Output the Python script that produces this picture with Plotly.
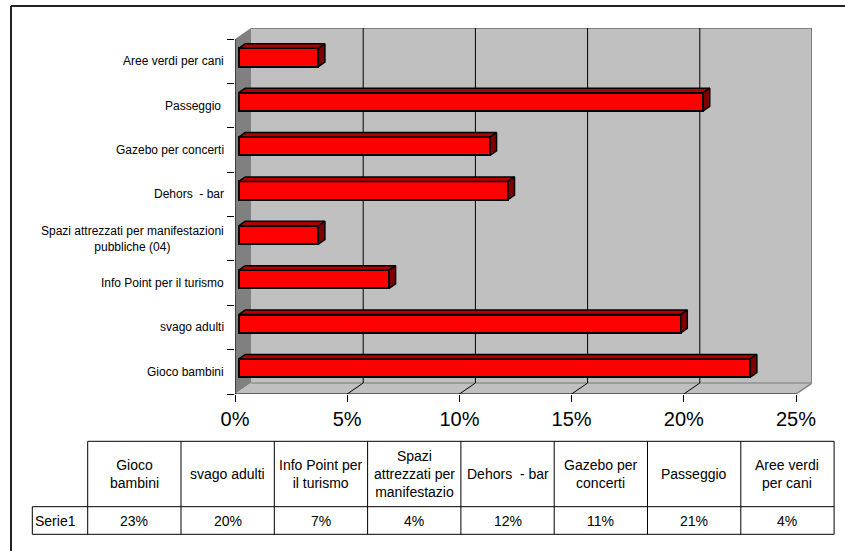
import plotly.graph_objects as go

# ---------------- data ----------------
categories = ["Gioco bambini", "svago adulti", "Info Point per il turismo",
              "Spazi attrezzati per manifestazioni pubbliche (04)", "Dehors  - bar",
              "Gazebo per concerti", "Passeggio ", "Aree verdi per cani"]
category_labels = ["Gioco bambini", "svago adulti", "Info Point per il turismo",
                   "Spazi attrezzati per manifestazioni<br>pubbliche (04)", "Dehors  - bar",
                   "Gazebo per concerti", "Passeggio ", "Aree verdi per cani"]
table_headers = ["Gioco<br>bambini", "svago adulti", "Info Point per<br>il turismo",
                 "Spazi<br>attrezzati per<br>manifestazio", "Dehors  - bar",
                 "Gazebo per<br>concerti", "Passeggio", "Aree verdi<br>per cani"]
series_name = "Serie1"
values = [22.8, 19.7, 6.7, 3.55, 12.0, 11.2, 20.7, 3.55]   # percent
x_ticks = [0, 5, 10, 15, 20, 25]
x_tick_labels = ["0%", "5%", "10%", "15%", "20%", "25%"]

# ---------------- layout geometry ----------------
W, H = 845, 551
ML, MR, MT, MB = 235, 33, 28, 157
PW, PH = W - ML - MR, H - MT - MB
N = len(categories)
XMAX = x_ticks[-1]
DEPTH_PX_X, DEPTH_PX_Y = 16, 11
kx = (PW - DEPTH_PX_X) / XMAX
ky = (PH - DEPTH_PX_Y) / N
DX = DEPTH_PX_X / kx
DY = DEPTH_PX_Y / ky

FX, FY, G, BH = 0.23, 0.34, 0.41, 0.41   # bar depth placement / thickness
FONT = "Arial, Liberation Sans, sans-serif"


def px2x(px):
    return (px - ML) / PW


def px2y(py):
    return (H - MB - py) / PH


fig = go.Figure()

# front faces of the bars
ycent = [i + 0.5 + FY * DY for i in range(N)]
fig.add_trace(go.Bar(
    y=ycent, x=values, base=FX * DX, orientation="h", width=BH,
    marker=dict(color="#FF0000", line=dict(color="black", width=2)),
    hoverinfo="skip", showlegend=False))

# top and side faces
tx, ty, sx, sy = [], [], [], []
for v, yc in zip(values, ycent):
    x0 = FX * DX
    x1 = v + FX * DX
    yt = yc + BH / 2
    yb = yc - BH / 2
    ox, oy = G * DX, G * DY
    tx += [x0, x1, x1 + ox, x0 + ox, x0, None]
    ty += [yt, yt, yt + oy, yt + oy, yt, None]
    sx += [x1, x1, x1 + ox, x1 + ox, x1, None]
    sy += [yb, yt, yt + oy, yb + oy, yb, None]
fig.add_trace(go.Scatter(x=tx, y=ty, mode="lines", fill="toself", fillcolor="#B00000",
                         line=dict(color="black", width=1.5), hoverinfo="skip", showlegend=False))
fig.add_trace(go.Scatter(x=sx, y=sy, mode="lines", fill="toself", fillcolor="#800000",
                         line=dict(color="black", width=1.5), hoverinfo="skip", showlegend=False))

shapes = []
# back wall
shapes.append(dict(type="rect", xref="x", yref="y", x0=DX, x1=XMAX + DX, y0=DY, y1=N + DY,
                   fillcolor="#C0C0C0", line=dict(width=0), layer="below"))
# side wall
shapes.append(dict(type="path", xref="x", yref="y",
                   path=f"M0,0 L{DX},{DY} L{DX},{N + DY} L0,{N} Z",
                   fillcolor="#808080", line=dict(width=0), layer="below"))
# floor
shapes.append(dict(type="path", xref="x", yref="y",
                   path=f"M0,0 L{XMAX},0 L{XMAX + DX},{DY} L{DX},{DY} Z",
                   fillcolor="#C0C0C0", line=dict(width=0), layer="below"))
# wall edges
shapes.append(dict(type="line", xref="x", yref="y", x0=DX, x1=XMAX + DX, y0=N + DY, y1=N + DY,
                   line=dict(color="#808080", width=2), layer="below"))
shapes.append(dict(type="line", xref="x", yref="y", x0=XMAX + DX, x1=XMAX + DX, y0=DY, y1=N + DY,
                   line=dict(color="#808080", width=2), layer="below"))
shapes.append(dict(type="line", xref="x", yref="y", x0=XMAX, x1=XMAX + DX, y0=0, y1=DY,
                   line=dict(color="#808080", width=1.5), layer="below"))
shapes.append(dict(type="line", xref="x", yref="y", x0=DX, x1=XMAX + DX, y0=DY, y1=DY,
                   line=dict(color="#909090", width=1.5), layer="below"))
# gridlines (back wall + floor)
for t in x_ticks[1:-1]:
    shapes.append(dict(type="line", xref="x", yref="y", x0=t + DX, x1=t + DX, y0=DY, y1=N + DY,
                       line=dict(color="black", width=1), layer="below"))
    shapes.append(dict(type="line", xref="x", yref="y", x0=t, x1=t + DX, y0=0, y1=DY,
                       line=dict(color="black", width=1), layer="below"))
# front axis lines
shapes.append(dict(type="line", xref="x", yref="y", x0=0, x1=XMAX, y0=0, y1=0,
                   line=dict(color="black", width=1)))
shapes.append(dict(type="line", xref="x", yref="y", x0=0, x1=0, y0=0, y1=N,
                   line=dict(color="black", width=1)))

# outer frame (top and left edges visible)
shapes.append(dict(type="line", xref="paper", yref="paper", x0=px2x(11), x1=px2x(870),
                   y0=px2y(6), y1=px2y(6), line=dict(color="#222", width=2)))
shapes.append(dict(type="line", xref="paper", yref="paper", x0=px2x(11), x1=px2x(11),
                   y0=px2y(6), y1=px2y(560), line=dict(color="#222", width=2)))

# data table
T_LEFT, LBL_W, COL_W = 32.3, 55.4, 93.3
T_TOP, HDR_H, ROW_H = 441.3, 65.4, 27.6
c0 = T_LEFT + LBL_W
c_end = c0 + COL_W * N
y_sep = T_TOP + HDR_H
y_bot = y_sep + ROW_H
tl = dict(color="black", width=1)
for yy, xa in [(T_TOP, c0), (y_sep, T_LEFT), (y_bot, T_LEFT)]:
    shapes.append(dict(type="line", xref="paper", yref="paper", x0=px2x(xa), x1=px2x(c_end),
                       y0=px2y(yy), y1=px2y(yy), line=tl))
shapes.append(dict(type="line", xref="paper", yref="paper", x0=px2x(T_LEFT), x1=px2x(T_LEFT),
                   y0=px2y(y_sep), y1=px2y(y_bot), line=tl))
for j in range(N + 1):
    xx = c0 + COL_W * j
    shapes.append(dict(type="line", xref="paper", yref="paper", x0=px2x(xx), x1=px2x(xx),
                       y0=px2y(T_TOP), y1=px2y(y_bot), line=tl))

annotations = []
for i, lab in enumerate(category_labels):
    annotations.append(dict(x=0, xref="x", y=i + 0.5, yref="y", text=lab, showarrow=False,
                            xanchor="right", yanchor="middle", xshift=-9, align="center",
                            font=dict(family=FONT, size=12, color="black")))
for j, (hd, v) in enumerate(zip(table_headers, values)):
    xc = c0 + COL_W * (j + 0.5)
    annotations.append(dict(x=px2x(xc), xref="paper", y=px2y(T_TOP + HDR_H / 2), yref="paper",
                            text=hd, showarrow=False, xanchor="center", yanchor="middle",
                            align="center", font=dict(family=FONT, size=14, color="black")))
    annotations.append(dict(x=px2x(xc), xref="paper", y=px2y(y_sep + ROW_H / 2), yref="paper",
                            text=f"{v:.0f}%", showarrow=False, xanchor="center", yanchor="middle",
                            font=dict(family=FONT, size=14, color="black")))
annotations.append(dict(x=px2x(T_LEFT + 1), xref="paper", y=px2y(y_sep + ROW_H / 2), yref="paper",
                        text=series_name, showarrow=False, xanchor="left", yanchor="middle",
                        font=dict(family=FONT, size=14, color="black")))

fig.update_layout(
    width=W, height=H, margin=dict(l=ML, r=MR, t=MT, b=MB, pad=0),
    paper_bgcolor="white", plot_bgcolor="white", showlegend=False,
    font=dict(family=FONT, color="black"),
    xaxis=dict(range=[0, XMAX + DX], tickvals=x_ticks, ticktext=x_tick_labels,
               ticks="outside", ticklen=7, tickcolor="black", tickwidth=1,
               showgrid=False, zeroline=False, showline=False,
               tickfont=dict(family=FONT, size=20, color="black"), fixedrange=True),
    yaxis=dict(range=[0, N + DY], tickvals=list(range(N + 1)), showticklabels=False,
               ticks="outside", ticklen=7, tickcolor="black", tickwidth=1,
               showgrid=False, zeroline=False, showline=False, fixedrange=True),
    shapes=shapes, annotations=annotations, bargap=0,
)

fig.write_html("out.html", config={"displayModeBar": False},
               post_script="document.body.style.margin='0px';document.body.style.overflow='hidden';")
